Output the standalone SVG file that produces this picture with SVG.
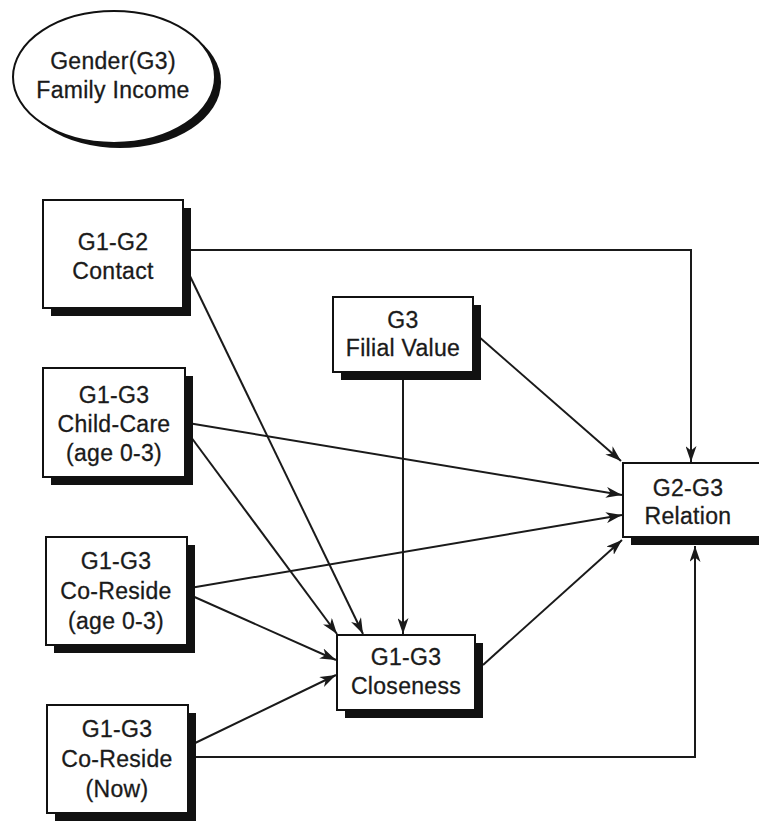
<svg xmlns="http://www.w3.org/2000/svg" width="759" height="821" viewBox="0 0 759 821">
<style>
.box{fill:#fff;stroke:#111;stroke-width:2}
.sh{fill:#111}
.t{font-family:"Liberation Sans",Arial,sans-serif;font-size:23px;fill:#1a1a1a;text-anchor:middle;letter-spacing:0.3px;stroke:#1a1a1a;stroke-width:0.3}
.c{fill:none;stroke:#1a1a1a;stroke-width:2}
</style>
<defs>
<marker id="ah" viewBox="0 0 16 11" refX="16" refY="5.5" markerWidth="16" markerHeight="11" markerUnits="userSpaceOnUse" orient="auto">
<path d="M0,0 L16,5.5 L0,11 L4.5,5.5 z" fill="#1a1a1a"/>
</marker>
</defs>
<rect width="759" height="821" fill="#fff"/>
<g id="connectors">
<polyline class="c" points="186,250 691,250 691,462" marker-end="url(#ah)"/>
<line class="c" x1="188" y1="272" x2="363" y2="634" marker-end="url(#ah)"/>
<line class="c" x1="188" y1="433" x2="337" y2="634" marker-end="url(#ah)"/>
<line class="c" x1="188" y1="423" x2="622" y2="495" marker-end="url(#ah)"/>
<line class="c" x1="190" y1="588" x2="622" y2="515" marker-end="url(#ah)"/>
<line class="c" x1="190" y1="595" x2="336" y2="660" marker-end="url(#ah)"/>
<line class="c" x1="191" y1="745" x2="336" y2="675" marker-end="url(#ah)"/>
<polyline class="c" points="191,757 695,757 695,546" marker-end="url(#ah)"/>
<line class="c" x1="403" y1="380" x2="403" y2="634" marker-end="url(#ah)"/>
<line class="c" x1="478" y1="336" x2="621" y2="461" marker-end="url(#ah)"/>
<line class="c" x1="483" y1="665" x2="622" y2="540" marker-end="url(#ah)"/>
</g>
<g id="controls">
<ellipse cx="120" cy="82" rx="101" ry="66" class="sh"/>
<ellipse cx="114" cy="77" rx="101" ry="66" class="box"/>
<text class="t" x="113" y="69">Gender(G3)</text>
<text class="t" x="113" y="98">Family Income</text>
</g>
<g id="contact">
<rect x="51" y="208" width="140" height="108" class="sh"/>
<rect x="43" y="200" width="140" height="108" class="box"/>
<text class="t" x="113" y="250">G1-G2</text>
<text class="t" x="113" y="279">Contact</text>
</g>
<g id="childcare">
<rect x="51" y="376" width="142" height="109" class="sh"/>
<rect x="43" y="368" width="142" height="109" class="box"/>
<text class="t" x="114" y="403">G1-G3</text>
<text class="t" x="114" y="432">Child-Care</text>
<text class="t" x="114" y="461">(age 0-3)</text>
</g>
<g id="coreside-age">
<rect x="54" y="545" width="141" height="108" class="sh"/>
<rect x="46" y="537" width="141" height="108" class="box"/>
<text class="t" x="116" y="569">G1-G3</text>
<text class="t" x="116" y="599">Co-Reside</text>
<text class="t" x="116" y="629">(age 0-3)</text>
</g>
<g id="coreside-now">
<rect x="55" y="713" width="141" height="108" class="sh"/>
<rect x="47" y="705" width="141" height="108" class="box"/>
<text class="t" x="117" y="737">G1-G3</text>
<text class="t" x="117" y="767">Co-Reside</text>
<text class="t" x="117" y="797">(Now)</text>
</g>
<g id="filial">
<rect x="341" y="305" width="140" height="75" class="sh"/>
<rect x="333" y="297" width="140" height="75" class="box"/>
<text class="t" x="403" y="328">G3</text>
<text class="t" x="403" y="356">Filial Value</text>
</g>
<g id="closeness">
<rect x="345" y="643" width="138" height="75" class="sh"/>
<rect x="337" y="635" width="138" height="75" class="box"/>
<text class="t" x="406" y="665">G1-G3</text>
<text class="t" x="406" y="694">Closeness</text>
</g>
<g id="relation">
<rect x="631" y="471" width="140" height="74" class="sh"/>
<rect x="623" y="463" width="140" height="74" class="box"/>
<text class="t" x="688" y="496">G2-G3</text>
<text class="t" x="688" y="524">Relation</text>
</g>
</svg>
